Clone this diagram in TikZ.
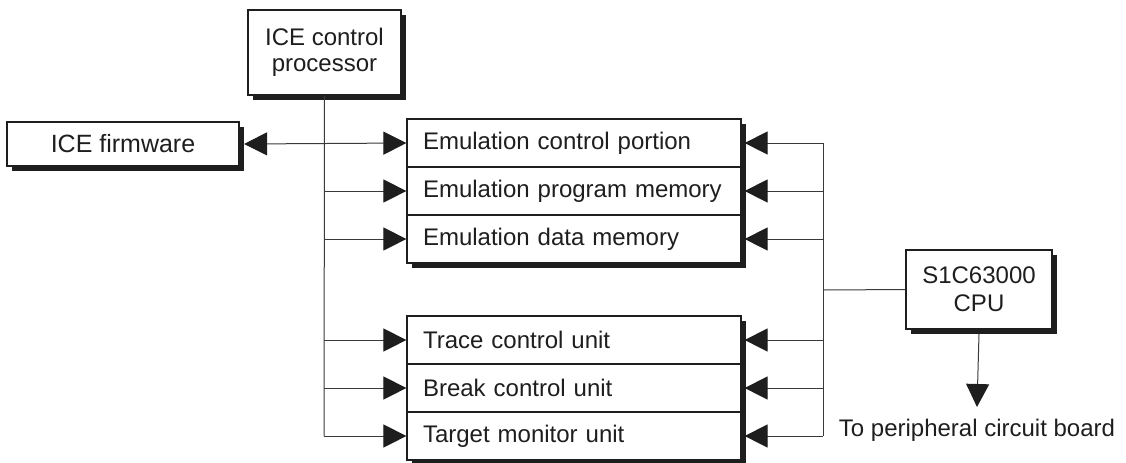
\documentclass[tikz,border=0pt]{standalone}
\usepackage{fontspec}
\setmainfont{Liberation Sans}
\usetikzlibrary{arrows.meta,shadows}
\definecolor{ink}{HTML}{1E1E1E}
\definecolor{wire}{HTML}{3A3A3A}
\begin{document}
\begin{tikzpicture}[x=0.5pt,y=-0.5pt,
  box/.style={draw=ink, line width=0.6pt, fill=white, inner sep=0pt, text=ink,
    font=\fontsize{12}{14}\selectfont,
    drop shadow={shadow xshift=2.25pt, shadow yshift=-2.25pt, fill=ink, opacity=1}},
  rowbox/.style={box, minimum width=167pt, minimum height=24pt, inner xsep=8pt,
    text width=151pt, align=left},
  wireline/.style={draw=wire, line width=0.5pt},
  tip/.style={Triangle[length=11.5pt,width=11.5pt,fill=ink,draw=ink]},
  arr/.style={wireline, -{Triangle[length=11.5pt,width=11.5pt,fill=ink,color=ink]}},
  darr/.style={wireline, {Triangle[length=11.5pt,width=11.5pt,fill=ink,color=ink]}-{Triangle[length=11.5pt,width=11.5pt,fill=ink,color=ink]}}
]
\useasboundingbox (0,0) rectangle (1126,462);

% boxes
\node[box, minimum width=76.5pt, minimum height=42.5pt, align=center,
      font=\fontsize{12}{13}\selectfont] (proc) at (324.5,52.5) {ICE control\\processor};
\node[box, minimum width=116pt, minimum height=22pt,
      font=\fontsize{12.5}{14}\selectfont] (fw) at (123,144) {ICE firmware};

\node[rowbox] (e1) at (574,143) {Emulation control portion};
\node[rowbox] (e2) at (574,191) {Emulation program memory};
\node[rowbox] (e3) at (574,239) {Emulation data memory};

\node[rowbox] (t1) at (574,340) {Trace control unit};
\node[rowbox] (t2) at (574,388) {Break control unit};
\node[rowbox] (t3) at (574,436) {Target monitor unit};

\node[box, minimum width=73pt, minimum height=39.5pt, align=center] (cpu) at (979,289.5) {S1C63000\\CPU};

\node[inner sep=0pt, anchor=north, text=ink, font=\fontsize{12}{14}\selectfont] (perip) at (977,419) {To peripheral circuit board};

% coordinates
\coordinate (pbot) at (324,436);
\coordinate (busT) at (823,143);
\coordinate (busB) at (823,436);
\coordinate (busM) at (823,290);

% left bus
\draw[wireline] (proc.south) -- (pbot);
\draw[darr] ([xshift=2.25pt]fw.east) -- (e1.west);
\foreach \r in {e2,e3,t1,t2,t3}{
  \draw[arr] (pbot |- \r.west) -- (\r.west);
}

% right bus
\draw[wireline] (busT) -- (busB);
\draw[wireline] (cpu.west) -- (busM);
\foreach \r in {e1,e2,e3,t1,t2,t3}{
  \draw[arr] (busB |- \r.east) -- ([xshift=1.5pt]\r.east);
}

% down to peripheral
\draw[arr] ([yshift=-2.25pt]cpu.south) -- ([yshift=6pt]perip.north);
\end{tikzpicture}
\end{document}
